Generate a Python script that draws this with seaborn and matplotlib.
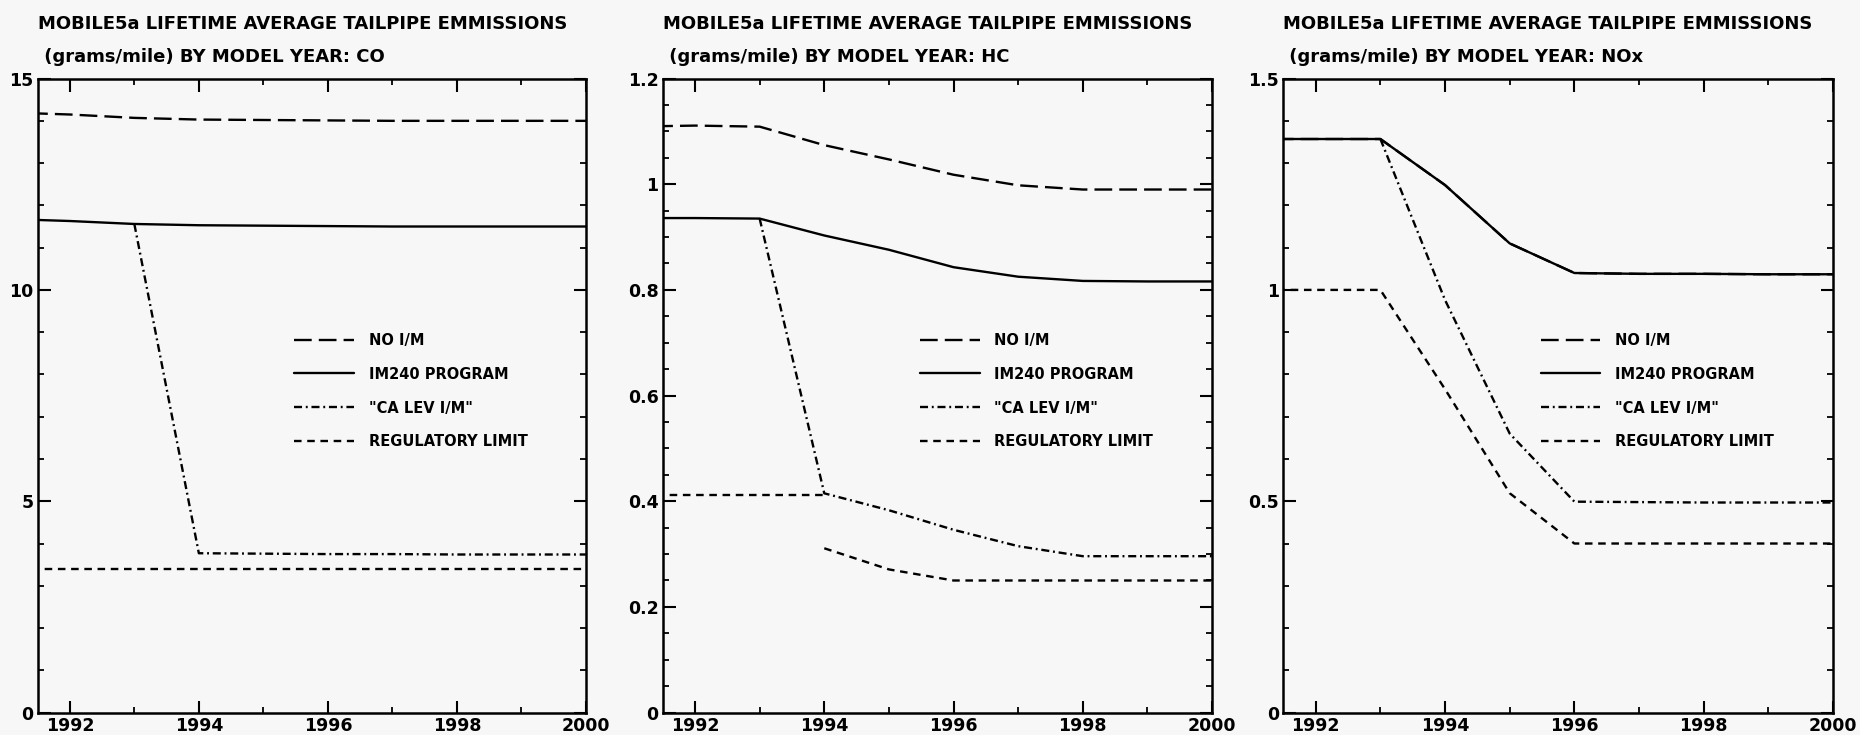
import numpy as np
import pandas as pd
import matplotlib
matplotlib.use("Agg")
import matplotlib.pyplot as plt
from matplotlib.ticker import MultipleLocator, FuncFormatter
import seaborn as sns

# ---------------- data ----------------
YEARS = [1991, 1992, 1993, 1994, 1995, 1996, 1997, 1998, 1999, 2000]
SERIES = ["NO I/M", "IM240 PROGRAM", "\"CA LEV I/M\"", "REGULATORY LIMIT"]
POLLUTANTS = ["CO", "HC", "NOx"]

CO_NO_IM = [14.20, 14.15, 14.07, 14.03, 14.02, 14.01, 14.0, 14.0, 14.0, 14.0]
CO_IM240 = [11.68, 11.63, 11.56, 11.53, 11.52, 11.51, 11.5, 11.5, 11.5, 11.5]
CO_CALEV = [np.nan, np.nan, 11.56, 3.77, 3.76, 3.75, 3.75, 3.74, 3.74, 3.74]
CO_REG = [3.40, 3.40, 3.40, 3.40, 3.40, 3.40, 3.40, 3.40, 3.40, 3.40]

HC_NO_IM = [1.109, 1.111, 1.109, 1.074, 1.047, 1.018, 0.998, 0.990, 0.990, 0.990]
HC_IM240 = [0.936, 0.936, 0.935, 0.903, 0.876, 0.843, 0.825, 0.817, 0.816, 0.816]
HC_CALEV = [np.nan, np.nan, 0.935, 0.415, 0.383, 0.346, 0.315, 0.296, 0.296, 0.296]
HC_REG_YEARS_A = [1991, 1992, 1993, 1994]
HC_REG_A = [0.411, 0.411, 0.411, 0.411]
HC_REG_YEARS_B = [1994, 1995, 1996, 1997, 1998, 1999, 2000]
HC_REG_B = [0.311, 0.271, 0.250, 0.250, 0.250, 0.250, 0.250]

NOX_NO_IM = [1.357, 1.357, 1.357, 1.248, 1.110, 1.040, 1.038, 1.038, 1.037, 1.037]
NOX_IM240 = [1.357, 1.357, 1.357, 1.248, 1.110, 1.040, 1.038, 1.038, 1.037, 1.037]
NOX_CALEV = [np.nan, np.nan, 1.357, 0.976, 0.660, 0.499, 0.498, 0.497, 0.497, 0.497]
NOX_REG = [1.0, 1.0, 1.0, 0.765, 0.519, 0.400, 0.400, 0.400, 0.400, 0.400]

TITLE_LINE1 = "MOBILE5a LIFETIME AVERAGE TAILPIPE EMMISSIONS"
TITLE_LINE2 = " (grams/mile) BY MODEL YEAR: "

YLIMS = {"CO": (0, 15), "HC": (0, 1.2), "NOx": (0, 1.5)}
YMAJOR = {"CO": 5, "HC": 0.2, "NOx": 0.5}
YMINOR = {"CO": 1, "HC": 0.05, "NOx": 0.1}
XLIM = (1991.5, 2000)

# ---------------- long-format table ----------------
rows = []
def add(pol, series, years, vals, seg=0):
    for y, v in zip(years, vals):
        if not np.isnan(v):
            rows.append(dict(pollutant=pol, series=series, year=y, value=v, seg=seg))

add("CO", SERIES[0], YEARS, CO_NO_IM)
add("CO", SERIES[1], YEARS, CO_IM240)
add("CO", SERIES[2], YEARS, CO_CALEV)
add("CO", SERIES[3], YEARS, CO_REG)
add("HC", SERIES[0], YEARS, HC_NO_IM)
add("HC", SERIES[1], YEARS, HC_IM240)
add("HC", SERIES[2], YEARS, HC_CALEV)
add("HC", SERIES[3], HC_REG_YEARS_A, HC_REG_A, seg=0)
add("HC", SERIES[3], HC_REG_YEARS_B, HC_REG_B, seg=1)
add("NOx", SERIES[0], YEARS, NOX_NO_IM)
add("NOx", SERIES[1], YEARS, NOX_IM240)
add("NOx", SERIES[2], YEARS, NOX_CALEV)
add("NOx", SERIES[3], YEARS, NOX_REG)
df = pd.DataFrame(rows)

# ---------------- style ----------------
BG = "#f7f7f7"
sns.set_theme(style="ticks", rc={
    "figure.facecolor": BG, "axes.facecolor": BG,
    "axes.edgecolor": "black", "axes.linewidth": 1.8,
    "xtick.direction": "in", "ytick.direction": "in",
    "xtick.top": True, "ytick.right": True,
    "xtick.color": "black", "ytick.color": "black",
    "xtick.labelcolor": "black", "ytick.labelcolor": "black",
    "text.color": "black", "axes.labelcolor": "black",
})
plt.rcParams["font.family"] = ["DejaVu Sans"]

LW = 1.7
STYLES = {
    SERIES[0]: (0, (7.5, 3.0)),
    SERIES[1]: "-",
    SERIES[2]: (0, (3.4, 1.6, 0.8, 1.6)),
    SERIES[3]: (0, (3.2, 2.4)),
}

fig = plt.figure(figsize=(18.6, 7.35), dpi=100)
AX_BOTTOM, AX_HEIGHT = 0.0305, 0.8626
positions = [
    (0.0202, AX_BOTTOM, 0.2948, AX_HEIGHT),
    (0.3563, AX_BOTTOM, 0.2953, AX_HEIGHT),
    (0.6900, AX_BOTTOM, 0.2955, AX_HEIGHT),
]
AX_PX_H = AX_HEIGHT * 735

fmt = FuncFormatter(lambda v, p: f"{v:g}")

for pol, pos in zip(POLLUTANTS, positions):
    ax = fig.add_axes(pos)
    sub = df[df.pollutant == pol]
    for s in SERIES:
        for k, (seg, d) in enumerate(sub[sub.series == s].groupby("seg")):
            sns.lineplot(data=d, x="year", y="value", ax=ax, estimator=None,
                         sort=False, color="black", linewidth=LW,
                         linestyle=STYLES[s], label=s if k == 0 else None,
                         legend=False)
    ax.set_xlim(*XLIM)
    ax.set_ylim(*YLIMS[pol])
    ax.xaxis.set_major_locator(MultipleLocator(2))
    ax.xaxis.set_minor_locator(MultipleLocator(1))
    ax.yaxis.set_major_locator(MultipleLocator(YMAJOR[pol]))
    ax.yaxis.set_minor_locator(MultipleLocator(YMINOR[pol]))
    ax.yaxis.set_major_formatter(fmt)
    ax.tick_params(which="major", length=9, width=1.5, labelsize=12.5, pad=3,
                   top=True, right=True, labelcolor="black")
    ax.tick_params(which="minor", length=4.5, width=1.3, top=True, right=True)
    for lab in ax.get_xticklabels() + ax.get_yticklabels():
        lab.set_fontweight("bold")
    ax.set_xlabel("")
    ax.set_ylabel("")
    for sp in ax.spines.values():
        sp.set_visible(True)

    ax.text(0, 1 + 50 / AX_PX_H, TITLE_LINE1, transform=ax.transAxes,
            fontsize=13, fontweight="bold", va="baseline", ha="left",
            color="black")
    ax.text(0, 1 + 17 / AX_PX_H, TITLE_LINE2 + pol, transform=ax.transAxes,
            fontsize=13, fontweight="bold", va="baseline", ha="left",
            color="black")

    handles, labels = ax.get_legend_handles_labels()
    leg = ax.legend(handles, labels, loc="upper left", bbox_to_anchor=(0.444, 0.62),
                    frameon=False, handlelength=4.1, handletextpad=1.0,
                    labelspacing=1.3, prop={"weight": "bold", "size": 10.5})
    for t in leg.get_texts():
        t.set_color("black")

fig.savefig("out.png", dpi=100, facecolor=BG)
